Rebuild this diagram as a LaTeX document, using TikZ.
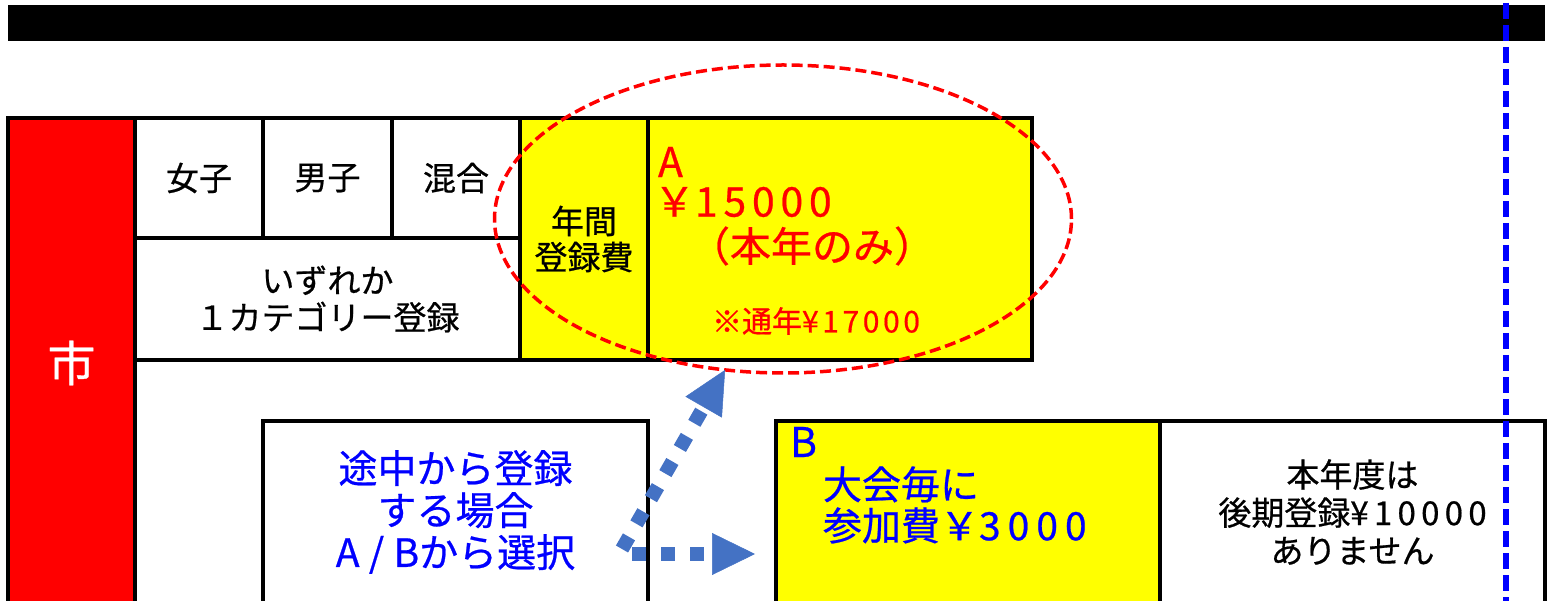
\documentclass[tikz,border=0pt]{standalone}
\usepackage{fontspec}
\setmainfont{Noto Sans CJK JP}[FakeBold=0.6]
\usetikzlibrary{arrows.meta,shapes.geometric,calc}
\definecolor{myred}{HTML}{FF0000}
\definecolor{myblue}{HTML}{0000FF}
\definecolor{myyellow}{HTML}{FFFF00}
\definecolor{arrowblue}{HTML}{4472C4}
\newcommand{\fs}[2]{\fontsize{#1}{#2}\selectfont}
\newcommand{\dg}[1]{{\addfontfeature{LetterSpace=12}#1}}
\newcommand{\lsp}[2]{{\addfontfeature{LetterSpace=#1}#2}}
\begin{document}
\begin{tikzpicture}[x=1pt,y=-1pt,
  cell/.style={draw=black, line width=3.2pt, inner sep=0pt, outer sep=0pt, rectangle, align=center},
  txt/.style={inner sep=0pt, outer sep=0pt},
  flow/.style={draw=arrowblue, line width=14pt, dash pattern=on 14pt off 15pt,
     -{Triangle[length=43pt,width=42pt,line width=0.5pt]}}
]
\useasboundingbox (0,0) rectangle (1551,601);
\clip (0,0) rectangle (1551,601);
% top bar
\fill[black] (8,5) rectangle (1545,41);
% left red column
\node[cell, fill=myred, minimum width=127pt, minimum height=490pt, text=white, font=\fs{48}{48}] (shi) at (71.5,363) {市};
% category cells
\node[cell, minimum width=128pt, minimum height=120pt, font=\fs{33}{36}] (joshi) at (199,178) {女子};
\node[cell, minimum width=129pt, minimum height=120pt, font=\fs{33}{36}] (danshi) at (327.5,178) {男子};
\node[cell, minimum width=128pt, minimum height=120pt, font=\fs{33}{36}] (kongo) at (456,178) {混合};
\node[cell, minimum width=385pt, minimum height=122pt, font=\fs{33}{37}] (izure) at (327.5,299) {いずれか\\１カテゴリー登録};
\node[cell, fill=myyellow, minimum width=128pt, minimum height=242pt, font=\fs{33}{36}] (nenkan) at (584,239) {年間\\登録費};
\node[cell, fill=myyellow, minimum width=384pt, minimum height=242pt] (cellA) at (840,239) {};
% lower boxes
\node[cell, minimum width=385pt, minimum height=182pt, text=myblue, font=\fs{39}{42}] (box1) at (455.5,512) {途中から登録\\する場合\\\lsp{24}{A/B}から選択};
\node[cell, fill=myyellow, minimum width=384pt, minimum height=182pt] (boxB) at (968,512) {};
\node[cell, minimum width=385pt, minimum height=182pt, font=\fs{33}{38}] (box3) at (1352.5,512) {本年度は\\後期登録\lsp{16}{¥10000}\\ありません};
% texts in A
\node[txt, anchor=west, text=myred, font=\fs{41}{41}] (labA) at (658,162) {A};
\node[txt, anchor=west, text=myred, font=\fs{41}{41}] (priceA) at (654,202) {￥\lsp{14}{15000}};
\node[txt, text=myred, font=\fs{41}{41}] (honnen) at (812,246) {（本年のみ）};
\node[txt, text=myred, font=\fs{30}{30}] (tsunen) at (816,321) {※通年\dg{¥17000}};
% texts in B
\node[txt, anchor=west, text=myblue, font=\fs{41}{41}] (labB) at (790,442) {B};
\node[txt, anchor=west, text=myblue, font=\fs{39}{41}, align=left] (textB) at (823,505) {大会毎に\\参加費￥\lsp{18}{3000}};
% ellipse
\node[draw=myred, ellipse, line width=3.5pt, dash pattern=on 11pt off 5pt, minimum width=577pt, minimum height=308pt, inner sep=0pt, outer sep=0pt] (oval) at (783,219) {};
% arrows
\coordinate (srcH) at (632,554);
\coordinate (srcD) at (622,549);
\draw[flow, shorten >=21pt] (srcH) -- (boxB.west |- srcH);
\draw[flow] (srcD) -- (oval.-111);
% blue dashed line
\coordinate (vtop) at (1506,3);
\coordinate (vbot) at (1506,601);
\draw[myblue, line width=5.5pt, dash pattern=on 16pt off 6pt] (vtop) -- (vbot);
\end{tikzpicture}
\end{document}
